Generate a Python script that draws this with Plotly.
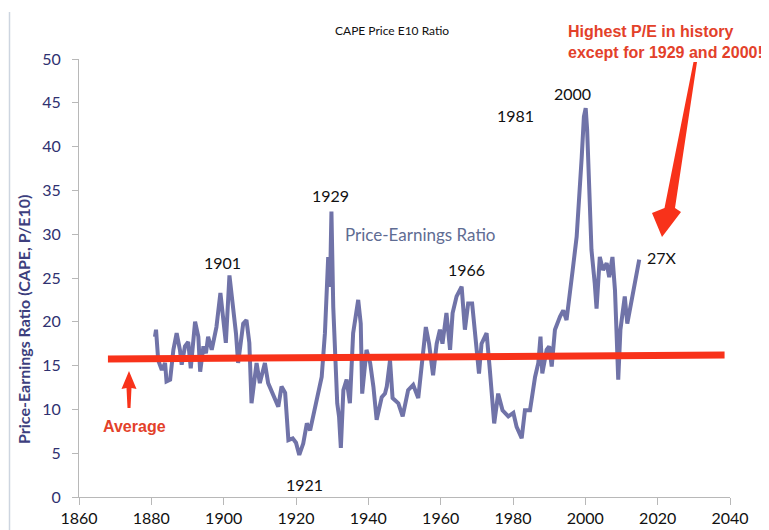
import plotly.graph_objects as go

# ---- data ----
years = [1881.0, 1881.3, 1881.9, 1882.9, 1883.8, 1884.2, 1885.2, 1886.1, 1887.0, 1887.9,
         1888.4, 1889.3, 1890.2, 1890.9, 1892.1, 1893.0, 1893.5, 1894.4, 1895.1, 1895.7,
         1896.7, 1897.6, 1898.0, 1899.1, 1899.9, 1900.6, 1901.6, 1902.2, 1902.7, 1903.4,
         1904.0, 1905.4, 1906.3, 1907.1, 1907.7, 1909.1, 1910.0, 1911.4, 1912.3, 1914.2,
         1915.1, 1916.0, 1917.0, 1917.9, 1919.1, 1920.0, 1920.9, 1922.0, 1923.0, 1923.9,
         1925.2, 1926.2, 1927.1, 1928.0, 1928.9, 1929.4, 1929.8, 1930.3, 1930.8, 1931.4,
         1931.9, 1932.4, 1933.1, 1934.0, 1934.9, 1935.8, 1937.2, 1937.9, 1938.3, 1939.5,
         1940.5, 1941.4, 1942.3, 1943.7, 1944.6, 1945.1, 1946.0, 1946.7, 1948.3, 1949.5,
         1951.0, 1952.4, 1953.8, 1955.0, 1955.9, 1956.8, 1957.9, 1958.9, 1959.8, 1960.5,
         1961.6, 1962.6, 1963.3, 1964.4, 1965.8, 1966.7, 1967.6, 1968.7, 1969.5, 1970.6,
         1971.3, 1972.7, 1973.6, 1974.8, 1975.9, 1977.1, 1978.7, 1980.1, 1981.0, 1982.4,
         1983.3, 1984.7, 1986.1, 1987.0, 1987.6, 1988.1, 1989.3, 1990.0, 1990.7, 1991.6,
         1993.0, 1993.9, 1994.8, 1995.7, 1996.5, 1997.6, 1998.5, 1999.0, 1999.6, 2000.1,
         2000.5, 2001.1, 2001.7, 2002.6, 2003.1, 2004.0, 2004.9, 2005.9, 2006.6, 2007.5,
         2008.2, 2008.6, 2009.1, 2009.7, 2010.9, 2011.6, 2012.3, 2013.2, 2014.2, 2014.9]
cape = [18.3, 19.1, 15.6, 14.5, 15.3, 13.2, 13.4, 16.8, 18.7, 16.8,
        15.1, 17.2, 17.7, 14.7, 20.0, 18.3, 14.3, 17.2, 16.4, 18.3,
        16.8, 18.7, 19.4, 23.3, 19.8, 17.6, 25.3, 22.9, 21.7, 18.7,
        15.3, 19.8, 20.2, 17.6, 10.7, 15.3, 13.0, 15.3, 13.0, 11.1,
        10.3, 12.6, 11.9, 6.5, 6.7, 6.2, 4.8, 6.1, 8.4, 7.6,
        9.9, 11.8, 13.7, 18.7, 27.4, 24.0, 32.6, 21.7, 17.2, 10.7,
        9.2, 5.6, 12.2, 13.4, 10.7, 18.7, 22.5, 19.8, 11.8, 16.8,
        15.3, 12.6, 8.8, 11.4, 11.8, 12.6, 15.6, 11.3, 10.7, 9.2,
        12.2, 12.8, 11.3, 16.0, 19.4, 17.5, 13.9, 17.5, 19.1, 17.5,
        21.0, 16.8, 21.0, 22.9, 24.0, 19.1, 22.1, 22.1, 18.3, 14.1,
        17.5, 18.7, 14.5, 8.4, 11.8, 9.9, 9.2, 9.6, 8.0, 6.7,
        9.9, 9.9, 13.7, 15.3, 18.3, 14.1, 16.8, 17.2, 14.9, 19.1,
        20.6, 21.3, 20.2, 22.9, 25.9, 29.7, 35.0, 38.8, 43.4, 44.4,
        41.9, 35.0, 28.2, 24.4, 21.5, 27.4, 25.9, 26.7, 25.1, 27.4,
        23.6, 19.1, 13.4, 19.1, 22.9, 19.8, 21.3, 23.3, 25.1, 27.1]
avg_years = [1868.0, 2038.5]
avg_values = [15.75, 16.2]
x_ticks = [1860, 1880, 1900, 1920, 1940, 1960, 1980, 2000, 2020, 2040]
y_ticks = [0, 5, 10, 15, 20, 25, 30, 35, 40, 45, 50]

# ---- layout geometry (page pixels; page body has an 8px margin) ----
PAGE = 8
L, T, W, H = 79, 59, 651, 438
FIG_W, FIG_H = 769 - PAGE, 530 - PAGE


def px(x):
    return (x - L) / W


def py(y):
    return (T + H - y) / H


def path(points):
    return "M " + " L ".join(f"{px(a):.5f},{py(b):.5f}" for a, b in points) + " Z"


RED_LINE = "#f8321a"
RED_TEXT = "#e3412a"
BLUE = "#7073a8"

fig = go.Figure()
fig.add_trace(go.Scatter(x=years, y=cape, mode="lines",
                         line=dict(color=BLUE, width=4), showlegend=False,
                         hoverinfo="skip"))
fig.add_trace(go.Scatter(x=avg_years, y=avg_values, mode="lines",
                         line=dict(color=RED_LINE, width=7), showlegend=False,
                         hoverinfo="skip"))

lbl = dict(family="Lato", size=16, color="#111111")
annotations = [
    dict(text="CAPE Price E10 Ratio", x=px(392), y=py(30),
         font=dict(family="Lato", size=12, color="#111111")),
    dict(text="1901", x=px(222), y=py(262), font=lbl),
    dict(text="1921", x=px(304), y=py(484), font=lbl),
    dict(text="1929", x=px(330), y=py(195), font=lbl),
    dict(text="1966", x=px(466), y=py(269), font=lbl),
    dict(text="1981", x=px(515), y=py(115), font=lbl),
    dict(text="2000", x=px(572), y=py(93), font=lbl),
    dict(text="27X", x=px(662), y=py(257), font=lbl),
    dict(text="Price-Earnings Ratio", x=px(420), y=py(234),
         font=dict(family="Lato", size=17, color="#5f6c93")),
    dict(text="Average", x=px(134), y=py(426),
         font=dict(family="Liberation Sans", size=16, color=RED_TEXT, weight="bold")),
    dict(text="Highest P/E in history<br>except for 1929 and 2000!", x=px(566), y=py(42),
         xanchor="left", align="left",
         font=dict(family="Liberation Sans", size=16, color=RED_TEXT, weight="bold")),
    dict(text="Price-Earnings Ratio (CAPE, P/E10)", x=px(23), y=py(320), textangle=-90,
         font=dict(family="Lato", size=16, color="#3d3f7e", weight="bold")),
]
for a in annotations:
    a.setdefault("xanchor", "center")
    a.setdefault("yanchor", "middle")
    a.update(xref="paper", yref="paper", showarrow=False)

shapes = [
    # big tapered arrow
    dict(type="path", xref="paper", yref="paper", line=dict(width=0),
         fillcolor=RED_LINE,
         path=path([(693.5, 62), (697, 62), (675, 208), (681, 212), (662, 237),
                    (652, 213), (664.5, 208)])),
    # small "Average" arrow
    dict(type="path", xref="paper", yref="paper", line=dict(width=0),
         fillcolor=RED_LINE,
         path=path([(127.5, 408), (130.5, 408), (131.5, 388), (136.5, 389), (129, 371),
                    (121.5, 389), (126.5, 388)])),
    # left frame line
    dict(type="line", xref="paper", yref="paper", x0=px(9.5), x1=px(9.5), y0=py(12), y1=py(532),
         line=dict(color="#cdd5e0", width=1.5)),
]

fig.update_layout(
    width=FIG_W, height=FIG_H,
    margin=dict(l=L - PAGE, r=FIG_W - (L - PAGE) - W, t=T - PAGE, b=FIG_H - (T - PAGE) - H),
    paper_bgcolor="white", plot_bgcolor="white",
    annotations=annotations, shapes=shapes,
    font=dict(family="Lato"),
)
fig.update_xaxes(range=[1860, 2040], tickvals=x_ticks, showgrid=False, zeroline=False,
                 automargin=False,
                 showline=True, linecolor="#b8b8b8", linewidth=1,
                 ticks="outside", ticklen=7, tickcolor="#b8b8b8",
                 tickfont=dict(family="Lato", size=16, color="#111111"))
fig.update_yaxes(range=[0, 50], tickvals=y_ticks, showgrid=False, zeroline=False,
                 automargin=False,
                 showline=True, linecolor="#b8b8b8", linewidth=1,
                 ticks="outside", ticklen=6, tickcolor="#b8b8b8",
                 ticklabelstandoff=8,
                 tickfont=dict(family="Lato", size=16, color="#2f3170"))

fig.write_html("out.html")
